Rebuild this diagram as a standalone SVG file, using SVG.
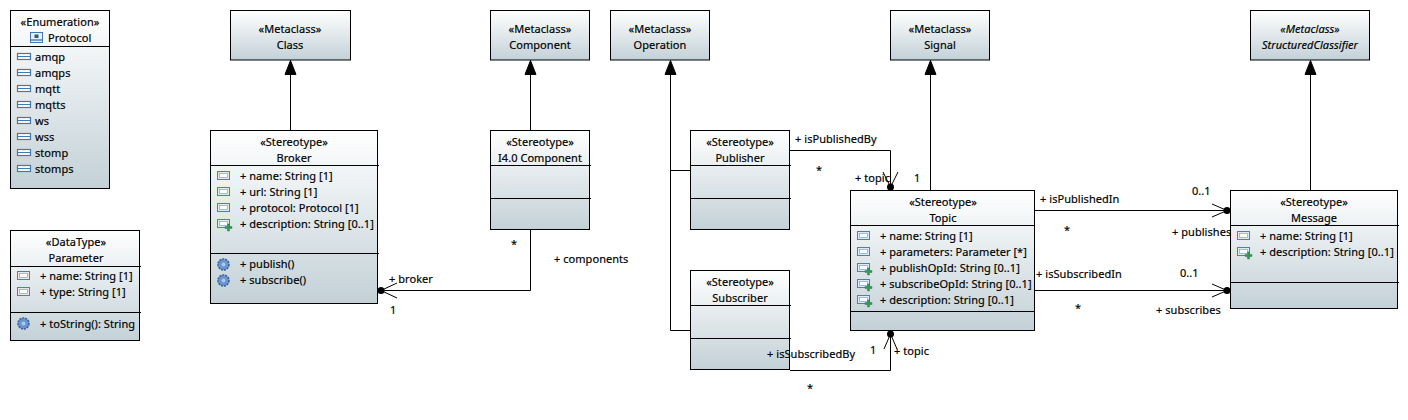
<svg xmlns="http://www.w3.org/2000/svg" xmlns:xlink="http://www.w3.org/1999/xlink" width="1408" height="420" viewBox="0 0 1408 420">
<style>
text{font-family:"Noto Sans","Open Sans","Liberation Sans",sans-serif;font-size:11px;fill:#000;stroke:#000;stroke-width:.18;letter-spacing:.05px}
.c{text-anchor:middle}
.i{font-style:italic}
.b{fill:url(#g);stroke:#000;stroke-width:1}
.s{stroke:#000;stroke-width:1;fill:none}
.e{stroke:#000;stroke-width:1;fill:none}
</style>
<defs>
<linearGradient id="g" x1="0" y1="0" x2="0" y2="1"><stop offset="0" stop-color="#ffffff"/><stop offset="1" stop-color="#c3d1d7"/></linearGradient>
<g id="attr"><rect x="0.500" y="0.500" width="12" height="8" fill="#dfeaf4" stroke="#4a80b8"/><rect x="2.500" y="2.500" width="8" height="4" fill="#fff" stroke="#7aa6d2" stroke-width="0.7"/></g>
<g id="attrp"><use xlink:href="#attr"/><path d="M8 7.500h2.500V5h2v2.500H15v2h-2.500V12h-2V9.500H8z" fill="#2f9a52" stroke="#1c6e36" stroke-width="0.4"/></g>
<g id="lit"><rect x="0.500" y="0.500" width="13" height="6" fill="#fff" stroke="#3f78b5" stroke-width="1.2"/><line x1="1" y1="3.500" x2="13" y2="3.500" stroke="#3f78b5"/></g>
<g id="op"><circle cx="6.500" cy="6.500" r="5.500" fill="#6a94cc" stroke="#3c64a0" stroke-dasharray="2 1" stroke-width="1.6"/><circle cx="6.500" cy="6.500" r="2" fill="#a8c8ec"/></g>
<g id="enum"><rect x="0.500" y="0.500" width="12" height="10" fill="#e8f0f8" stroke="#3f78b5"/><line x1="0.500" y1="8" x2="12.500" y2="8" stroke="#3f78b5" stroke-width="1.400"/><rect x="4.500" y="2.500" width="4" height="3.500" fill="#33557a"/></g>
</defs>
<g id="Protocol"><rect class="b" x="10.500" y="10.500" width="99" height="178"/><line class="e" x1="10.500" y1="46.500" x2="110" y2="46.500"/>
<text class="c" x="60" y="26">«Enumeration»</text><use xlink:href="#enum" x="30" y="32"/><text x="48" y="42">Protocol</text>
<use xlink:href="#lit" x="17" y="53"/><text x="35" y="61">amqp</text>
<use xlink:href="#lit" x="17" y="69"/><text x="35" y="77">amqps</text>
<use xlink:href="#lit" x="17" y="85"/><text x="35" y="93">mqtt</text>
<use xlink:href="#lit" x="17" y="101"/><text x="35" y="109">mqtts</text>
<use xlink:href="#lit" x="17" y="117"/><text x="35" y="125">ws</text>
<use xlink:href="#lit" x="17" y="133"/><text x="35" y="141">wss</text>
<use xlink:href="#lit" x="17" y="149"/><text x="35" y="157">stomp</text>
<use xlink:href="#lit" x="17" y="165"/><text x="35" y="173">stomps</text></g>
<g id="Parameter"><rect class="b" x="10.500" y="230.500" width="129" height="110"/><line class="e" x1="10.500" y1="266.500" x2="141" y2="266.500"/><line class="e" x1="10.500" y1="312.500" x2="141" y2="312.500"/>
<text class="c" x="76" y="246">«DataType»</text><text class="c" x="76" y="262">Parameter</text>
<use xlink:href="#attr" x="17" y="271"/><text x="40" y="280">+ name: String [1]</text>
<use xlink:href="#attr" x="17" y="287"/><text x="40" y="296">+ type: String [1]</text>
<use xlink:href="#op" x="17" y="317"/><text x="40" y="328">+ toString(): String</text></g>
<g id="Class"><rect class="b" x="230.500" y="10.500" width="120" height="49.500"/><text class="c" x="290" y="33">«Metaclass»</text><text class="c" x="290" y="49">Class</text></g>
<g id="Component"><rect class="b" x="490.500" y="10.500" width="99" height="49.500"/><text class="c" x="540" y="33">«Metaclass»</text><text class="c" x="540" y="49">Component</text></g>
<g id="Operation"><rect class="b" x="610.500" y="10.500" width="99" height="49.500"/><text class="c" x="660" y="33">«Metaclass»</text><text class="c" x="660" y="49">Operation</text></g>
<g id="Signal"><rect class="b" x="890.500" y="10.500" width="99" height="49.500"/><text class="c" x="940" y="33">«Metaclass»</text><text class="c" x="940" y="49">Signal</text></g>
<g id="StructuredClassifier"><rect class="b" x="1250.500" y="10.500" width="119" height="49.500"/><text class="c i" x="1310" y="33">«Metaclass»</text><text class="c i" x="1310" y="49">StructuredClassifier</text></g>
<g id="Broker"><rect class="b" x="210.500" y="130.500" width="167" height="173"/><line class="e" x1="210.500" y1="165.500" x2="379" y2="165.500"/><line class="e" x1="210.500" y1="253.500" x2="379" y2="253.500"/>
<text class="c" x="294" y="146">«Stereotype»</text><text class="c" x="294" y="162">Broker</text>
<use xlink:href="#attr" x="217" y="171"/><text x="240" y="180">+ name: String [1]</text>
<use xlink:href="#attr" x="217" y="187"/><text x="240" y="196">+ url: String [1]</text>
<use xlink:href="#attr" x="217" y="203"/><text x="240" y="212">+ protocol: Protocol [1]</text>
<use xlink:href="#attrp" x="217" y="219"/><text x="240" y="228">+ description: String [0..1]</text>
<use xlink:href="#op" x="217" y="258"/><text x="240" y="268">+ publish()</text>
<use xlink:href="#op" x="217" y="274"/><text x="240" y="284">+ subscribe()</text></g>
<g id="I40Component"><rect class="b" x="490.500" y="130.500" width="99" height="99"/><line class="e" x1="490.500" y1="165.500" x2="591" y2="165.500"/><line class="e" x1="490.500" y1="198.500" x2="591" y2="198.500"/>
<text class="c" x="540" y="146">«Stereotype»</text><text class="c" x="540" y="162">I4.0 Component</text></g>
<g id="Publisher"><rect class="b" x="690.500" y="130.500" width="99" height="99"/><line class="e" x1="690.500" y1="165.500" x2="791" y2="165.500"/><line class="e" x1="690.500" y1="198.500" x2="791" y2="198.500"/>
<text class="c" x="740" y="146">«Stereotype»</text><text class="c" x="740" y="162">Publisher</text></g>
<g id="Subscriber"><rect class="b" x="690.500" y="270.500" width="99" height="99"/><line class="e" x1="690.500" y1="305.500" x2="791" y2="305.500"/><line class="e" x1="690.500" y1="338.500" x2="791" y2="338.500"/>
<text class="c" x="740" y="286">«Stereotype»</text><text class="c" x="740" y="302">Subscriber</text></g>
<g id="Topic"><rect class="b" x="850.500" y="190.500" width="184" height="140"/><line class="e" x1="850.500" y1="225.500" x2="1035" y2="225.500"/><line class="e" x1="850.500" y1="311.500" x2="1035" y2="311.500"/>
<text class="c" x="943" y="206">«Stereotype»</text><text class="c" x="943" y="222">Topic</text>
<use xlink:href="#attr" x="857" y="231"/><text x="880" y="240">+ name: String [1]</text>
<use xlink:href="#attr" x="857" y="247"/><text x="880" y="256">+ parameters: Parameter [*]</text>
<use xlink:href="#attrp" x="857" y="263"/><text x="880" y="272">+ publishOpId: String [0..1]</text>
<use xlink:href="#attrp" x="857" y="279"/><text x="880" y="288">+ subscribeOpId: String [0..1]</text>
<use xlink:href="#attrp" x="857" y="295"/><text x="880" y="304">+ description: String [0..1]</text></g>
<g id="Message"><rect class="b" x="1230.500" y="190.500" width="167" height="118"/><line class="e" x1="1230.500" y1="225.500" x2="1399" y2="225.500"/><line class="e" x1="1230.500" y1="282.500" x2="1399" y2="282.500"/>
<text class="c" x="1314" y="206">«Stereotype»</text><text class="c" x="1314" y="222">Message</text>
<use xlink:href="#attr" x="1237" y="231"/><text x="1260" y="240">+ name: String [1]</text>
<use xlink:href="#attrp" x="1237" y="247"/><text x="1260" y="256">+ description: String [0..1]</text></g>
<g id="connectors">
<path class="s" d="M290.500 130V74M530.500 130V74M670.500 330.500V74M670.500 170.500H690M670.500 330.500H690M930.500 190V74M1310.500 190V74"/>
<path d="M290.500 60.500l-5.500 14h11zM530.500 60.500l-5.500 14h11zM670.500 60.500l-5.500 14h11zM930.500 60.500l-5.500 14h11zM1310.500 60.500l-5.500 14h11z" fill="#000" stroke="#000"/>
<path class="s" d="M381 290.500H530.500V230M790 150.500H890.500V187M790 370.500H890.500V334M1034 210.500H1227M1034 290.500H1227"/>
<path class="s" d="M397 283l-16 7.500 16 7.500M883 172l7.500 15 7.500-15M884 349l6.500-15 6.500 15M1212 204l15 6.500-15 6.500M1212 284l15 6.500-15 6.500"/>
<circle cx="381" cy="290.500" r="3.500"/><circle cx="890.500" cy="187" r="3.500"/><circle cx="890.500" cy="334" r="3.500"/><circle cx="1227" cy="210.500" r="3.500"/><circle cx="1227" cy="290.500" r="3.500"/>
<text x="389" y="283">+ broker</text><text x="390" y="314">1</text>
<text x="554" y="263">+ components</text><text x="511" y="248">*</text>
<text x="795" y="143">+ isPublishedBy</text><text x="816" y="174">*</text>
<text x="855" y="182">+ topic</text><text x="914" y="182">1</text>
<text x="767" y="358">+ isSubscribedBy</text><text x="807" y="392">*</text>
<text x="870" y="354">1</text><text x="894" y="355">+ topic</text>
<text x="1040" y="203">+ isPublishedIn</text><text x="1064" y="234">*</text>
<text x="1192" y="195">0..1</text><text x="1172" y="236">+ publishes</text>
<text x="1036" y="278">+ isSubscribedIn</text><text x="1075" y="312">*</text>
<text x="1180" y="277">0..1</text><text x="1156" y="314">+ subscribes</text>
</g>
</svg>
